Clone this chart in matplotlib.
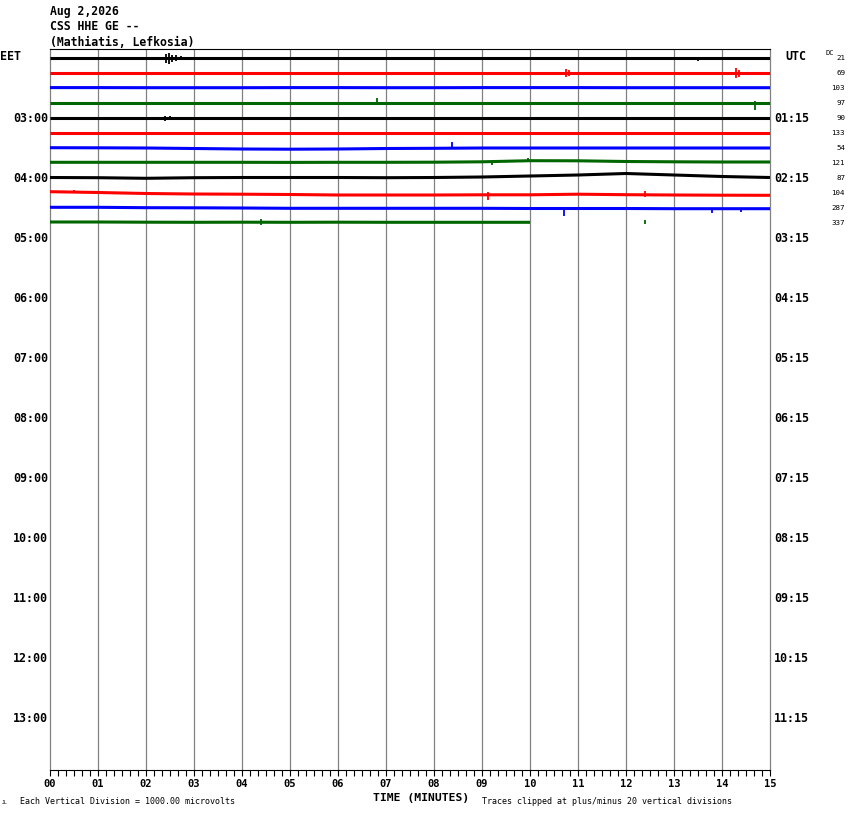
import numpy as np
import matplotlib.pyplot as plt
from matplotlib import transforms

title_lines = ['Aug 2,2026', 'CSS HHE GE --', '(Mathiatis, Lefkosia)']
trace_colors = ['black', 'red', 'blue', '#006600']
n_rows = 48  # 15-minute rows, 02:00 - 14:00 EET
left_labels = ['EET', '03:00', '04:00', '05:00', '06:00', '07:00', '08:00',
               '09:00', '10:00', '11:00', '12:00', '13:00']
right_labels = ['UTC', '01:15', '02:15', '03:15', '04:15', '05:15', '06:15',
                '07:15', '08:15', '09:15', '10:15', '11:15']
dc_values = [21, 69, 103, 97, 90, 133, 54, 121, 87, 104, 287, 337]
minute_labels = ['%02d' % m for m in range(16)]

# baseline drift of each row, one value per minute (trace units, + = up)
base_r0 = [0.0, 0.0, 0.0, 0.0, 0.0, 0.0, 0.0, 0.0, 0.0, 0.0, 0.0, 0.0, 0.0, 0.0, 0.0, 0.0]
base_r1 = [0.0, 0.0, 0.0, 0.0, 0.0, 0.0, 0.0, 0.0, 0.0, 0.0, 0.0, 0.0, 0.0, 0.0, 0.0, 0.0]
base_r2 = [0.4, 0.4, 0.3, 0.3, 0.3, 0.4, 0.4, 0.3, 0.3, 0.4, 0.4, 0.4, 0.3, 0.3, 0.3, 0.3]
base_r3 = [0.5, 0.5, 0.5, 0.5, 0.5, 0.5, 0.5, 0.5, 0.5, 0.5, 0.5, 0.5, 0.5, 0.5, 0.5, 0.5]
base_r4 = [0.0, 0.0, 0.0, 0.0, 0.0, 0.0, 0.0, 0.0, 0.0, 0.0, 0.0, 0.0, 0.0, 0.0, 0.0, 0.0]
base_r5 = [0.5, 0.5, 0.5, 0.5, 0.5, 0.5, 0.5, 0.5, 0.5, 0.5, 0.5, 0.5, 0.5, 0.5, 0.5, 0.5]
base_r6 = [0.3, 0.2, 0.0, -0.5, -1.0, -1.2, -1.0, -0.5, -0.3, 0.0, 0.0, 0.0, 0.0, 0.0, 0.0, 0.0]
base_r7 = [0.7, 0.7, 0.7, 0.7, 0.7, 0.6, 0.7, 0.7, 0.8, 1.2, 2.3, 2.2, 1.5, 1.2, 1.0, 1.0]
base_r8 = [0.5, 0.3, -0.3, 0.3, 0.5, 0.5, 0.5, 0.3, 0.5, 1.0, 2.0, 3.0, 4.5, 3.0, 1.5, 0.5]
base_r9 = [1.3, 0.5, -0.5, -1.0, -1.2, -1.5, -2.0, -2.0, -2.0, -1.8, -1.8, -1.2, -1.7, -2.0, -2.2, -2.3]
base_r10 = [0.7, 0.7, 0.3, 0.2, 0.0, -0.3, -0.3, -0.3, -0.3, -0.3, -0.5, -0.5, -0.5, -0.7, -0.7, -0.7]
base_r11 = [1.0, 1.0, 0.8, 0.7, 0.8, 0.7, 0.8, 0.7, 0.7, 0.7, 0.7]
baselines = [base_r0, base_r1, base_r2, base_r3, base_r4, base_r5,
             base_r6, base_r7, base_r8, base_r9, base_r10, base_r11]

# larger excursions: row, minute, up, down (trace units)
spike_row = [0, 0, 0, 0, 0, 0, 1, 1, 1, 1, 3, 3, 4, 4, 6, 7, 7, 9, 9, 9, 10, 10, 10, 11, 11]
spike_min = [2.42, 2.48, 2.55, 2.62, 2.72, 13.5, 10.76, 10.82, 14.3, 14.36, 6.82, 14.68,
             2.4, 2.5, 8.38, 9.2, 9.95, 0.5, 9.12, 12.4, 10.7, 13.8, 14.4, 4.4, 12.4]
spike_up = [4, 5.5, 3, 3, 2, 1, 4, 3, 5, 3, 5, 2, 2, 2, 6, 1, 3, 2.5, 3, 4, 1, 1, 1, 3, 2]
spike_dn = [5, 6, 4, 3, 2, 3, 4, 3, 5, 4, 1, 7, 3, 2, 1, 3, 1, 1, 5, 2, 7, 4, 3, 3, 2]

# --- layout helpers (pixel grid of the reference) ---
W, H = 850, 814
fig = plt.figure(figsize=(W / 100, H / 100), dpi=100)
ax = fig.add_axes([50 / W, (H - 770) / H, 720 / W, 721 / H])
row_px = 15.0
ax.set_xlim(0, 15)
ax.set_ylim((770 - 58) / row_px, (49 - 58) / row_px)

mono = 'DejaVu Sans Mono'


def fx(px):
    return px / W


def fy(py):
    return 1 - py / H


# minute grid
for m in range(1, 15):
    ax.axvline(m, color='#808080', lw=0.9, zorder=1)
for side in ['left', 'right']:
    ax.spines[side].set_color('#808080')
    ax.spines[side].set_linewidth(0.9)
ax.spines['top'].set_color('black')
ax.spines['bottom'].set_color('black')

# traces
for r, base in enumerate(baselines):
    xm = np.arange(len(base))
    y = r - np.array(base) / row_px
    ax.plot(xm, y, color=trace_colors[r % 4], lw=2.2, solid_capstyle='butt', zorder=3)

for r, m, up, dn in zip(spike_row, spike_min, spike_up, spike_dn):
    b = np.interp(m, np.arange(len(baselines[r])), baselines[r])
    ax.vlines(m, r - (b + up) / row_px, r - (b - dn) / row_px,
              color=trace_colors[r % 4], lw=1.3, zorder=4)

# axis ticks
ax.set_xticks(range(16))
ax.set_xticklabels(minute_labels, fontfamily=mono, fontweight='bold', fontsize=7.5)
ax.set_xticks(np.arange(0, 15.01, 1 / 6), minor=True)
ax.tick_params(axis='x', which='both', direction='out', length=4.5, width=0.8,
               color='black', pad=2)
ax.set_yticks([])

# hour labels on both sides
to_ax = transforms.blended_transform_factory(ax.transAxes, ax.transData)
for i, (lt, rt) in enumerate(zip(left_labels, right_labels)):
    r = 4 * i
    if i == 0:
        fig.text(fx(0), fy(57), lt, ha='left', va='center', fontfamily=mono,
                 fontweight='bold', fontsize=8.4)
        fig.text(fx(785), fy(57), rt, ha='left', va='center', fontfamily=mono,
                 fontweight='bold', fontsize=8.4)
    else:
        ax.text(-0.003, r, lt, transform=to_ax, ha='right', va='center',
                fontfamily=mono, fontweight='bold', fontsize=8.4, clip_on=False)
        ax.text(1.006, r, rt, transform=to_ax, ha='left', va='center',
                fontfamily=mono, fontweight='bold', fontsize=8.4, clip_on=False)

# DC offsets per row
fig.text(fx(825), fy(53), 'DC', ha='left', va='center', fontfamily=mono, fontsize=5)
for r, dc in enumerate(dc_values):
    ax.text(1.1042, r, str(dc), transform=to_ax, ha='right', va='center',
            fontfamily=mono, fontsize=5.4, clip_on=False)

# header
for i, t in enumerate(title_lines):
    fig.text(fx(50), fy(12 + 15 * i), t, ha='left', va='center', fontfamily=mono,
             fontweight='bold', fontsize=8.3)

# footer
fig.text(fx(373), fy(798), 'TIME (MINUTES)', ha='left', va='center', fontfamily=mono,
         fontweight='bold', fontsize=8.2)
fig.text(fx(20), fy(801), 'Each Vertical Division = 1000.00 microvolts', ha='left',
         va='center', fontfamily=mono, fontsize=6)
fig.text(fx(482), fy(801), 'Traces clipped at plus/minus 20 vertical divisions',
         ha='left', va='center', fontfamily=mono, fontsize=6)
fig.text(fx(2), fy(803), 'JL', ha='left', va='center', fontfamily=mono, fontsize=3.5)

fig.savefig('out.png', dpi=100)
